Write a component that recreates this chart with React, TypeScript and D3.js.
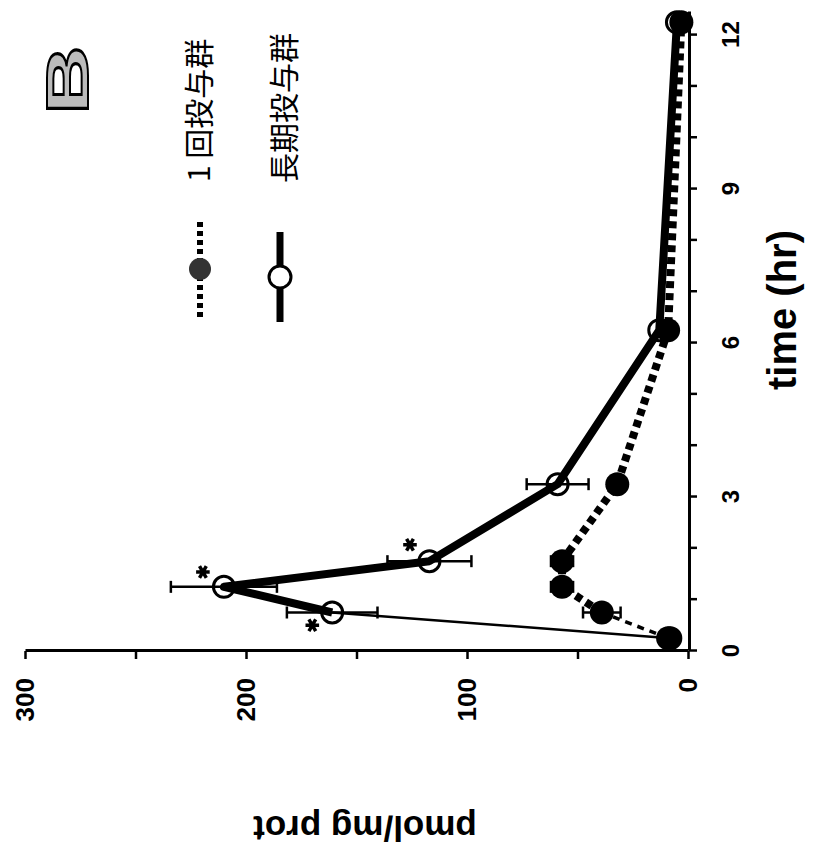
import React, { useEffect, useRef } from "react";
import * as d3 from "d3";

// ---- data ----
const times = [0.25, 0.75, 1.25, 1.75, 3.25, 6.25, 12.25];
const singleDose = [9, 39, 57, 57, 32, 9, 3];
const singleErr = [0, 8.5, 5, 5, 4, 0, 0];
const longTerm = [8, 161, 210, 117, 59, 13, 5];
const longErr = [0, 20.5, 24, 19, 14, 0, 0];
const starTimes = [0.5, 1.54, 2.07];
const starValues = [170, 219.5, 125.8];
const timeTicks = [0, 1, 2, 3, 4, 5, 6, 7, 8, 9, 10, 11, 12];
const timeLabels = [0, 3, 6, 9, 12];
const pmolTicks = [0, 50, 100, 150, 200, 250, 300];
const pmolLabels = [0, 100, 200, 300];
const legendSingle = "1 回投与群";
const legendLong = "長期投与群";

const W = 834;
const H = 854;
const FONT = "'Liberation Sans', Arial, sans-serif";
const JP = "'Noto Sans CJK JP', 'Noto Sans CJK SC', sans-serif";

export default function App() {
  const ref = useRef<SVGGElement | null>(null);

  useEffect(() => {
    const g = d3.select(ref.current);
    g.selectAll("*").remove();

    // original (unrotated) chart coordinates
    const x = d3.scaleLinear().domain([0, 12.45]).range([203, 842]);
    const y = d3.scaleLinear().domain([0, 300]).range([688, 25]);

    // time axis
    const xAxis = d3
      .axisBottom(x)
      .tickValues(timeTicks)
      .tickSizeInner(8)
      .tickSizeOuter(0)
      .tickPadding(25)
      .tickFormat((d: any) => (timeLabels.includes(d) ? String(d) : ""));
    const gx = g.append("g").attr("transform", "translate(0,689)").call(xAxis as any);
    gx.select(".domain").attr("stroke-width", 3);
    gx.selectAll(".tick line").attr("stroke-width", 2.5);
    gx.selectAll(".tick text")
      .attr("font-family", FONT)
      .attr("font-weight", "bold")
      .attr("font-size", 24)
      .attr("fill", "#000");

    // pmol axis
    const yAxis = d3
      .axisLeft(y)
      .tickValues(pmolTicks)
      .tickSizeInner(8)
      .tickSizeOuter(0)
      .tickPadding(19)
      .tickFormat((d: any) => (pmolLabels.includes(d) ? String(d) : ""));
    const gy = g.append("g").attr("transform", "translate(203,0)").call(yAxis as any);
    gy.select(".domain").attr("stroke-width", 3);
    gy.selectAll(".tick line").attr("stroke-width", 2.5);
    gy.selectAll(".tick text")
      .attr("font-family", FONT)
      .attr("font-weight", "bold")
      .attr("font-size", 26)
      .attr("fill", "#000");

    const pts = (vals: number[]) => times.map((t, i) => [x(t), y(vals[i])] as [number, number]);
    const line = d3.line();

    // long-term series (open circles, solid)
    const lp = pts(longTerm);
    g.append("path").attr("d", line(lp.slice(0, 2))).attr("fill", "none").attr("stroke", "#000").attr("stroke-width", 2.5);
    g.append("path").attr("d", line(lp.slice(1))).attr("fill", "none").attr("stroke", "#000").attr("stroke-width", 8).attr("stroke-linejoin", "round");

    // single-dose series (filled circles, dashed)
    const sp = pts(singleDose);
    g.append("path").attr("d", line(sp.slice(0, 2))).attr("fill", "none").attr("stroke", "#000").attr("stroke-width", 3.5).attr("stroke-dasharray", "7,6");
    g.append("path").attr("d", line(sp.slice(1))).attr("fill", "none").attr("stroke", "#000").attr("stroke-width", 8).attr("stroke-dasharray", "7,5");

    // error bars
    const errBars = (vals: number[], errs: number[]) => {
      times.forEach((t, i) => {
        if (!errs[i]) return;
        const cx = x(t);
        const y1 = y(vals[i] - errs[i]);
        const y2 = y(vals[i] + errs[i]);
        g.append("line").attr("x1", cx).attr("x2", cx).attr("y1", y1).attr("y2", y2).attr("stroke", "#000").attr("stroke-width", 2.5);
        [y1, y2].forEach((yy) =>
          g.append("line").attr("x1", cx - 6).attr("x2", cx + 6).attr("y1", yy).attr("y2", yy).attr("stroke", "#000").attr("stroke-width", 2.5)
        );
      });
    };
    errBars(longTerm, longErr);
    errBars(singleDose, singleErr);

    // markers
    g.selectAll(".open").data(lp).enter().append("circle")
      .attr("cx", (d) => d[0]).attr("cy", (d) => d[1]).attr("r", 10.5)
      .attr("fill", "none").attr("stroke", "#000").attr("stroke-width", 3);
    g.selectAll(".filled").data(sp).enter().append("circle")
      .attr("cx", (d) => d[0]).attr("cy", (d) => d[1]).attr("r", 12).attr("fill", "#000");

    // significance asterisks
    const star = d3.symbol().type(d3.symbolAsterisk).size(130);
    starTimes.forEach((t, i) => {
      g.append("path").attr("d", star()).attr("transform", `translate(${x(t)},${y(starValues[i])})`)
        .attr("fill", "none").attr("stroke", "#000").attr("stroke-width", 3.5);
    });

    // legend
    const lg = g.append("g");
    lg.append("line").attr("x1", 537).attr("x2", 634).attr("y1", 200).attr("y2", 200)
      .attr("stroke", "#000").attr("stroke-width", 6).attr("stroke-dasharray", "5,4");
    lg.append("circle").attr("cx", 585).attr("cy", 200).attr("r", 11).attr("fill", "#333");
    lg.append("line").attr("x1", 532).attr("x2", 622).attr("y1", 280).attr("y2", 280)
      .attr("stroke", "#000").attr("stroke-width", 7);
    lg.append("circle").attr("cx", 577).attr("cy", 280).attr("r", 11).attr("fill", "#fff").attr("stroke", "#000").attr("stroke-width", 3);
    lg.append("text").attr("x", 672).attr("y", 197).attr("dominant-baseline", "central")
      .attr("font-family", JP).attr("font-size", 30).attr("fill", "#000").text(legendSingle);
    lg.append("text").attr("x", 671).attr("y", 282).attr("dominant-baseline", "central")
      .attr("font-family", JP).attr("font-size", 30).attr("fill", "#000").text(legendLong);

    // panel letter
    g.append("text").attr("transform", "translate(774,88) scale(1.6,1)")
      .attr("text-anchor", "middle").attr("font-family", FONT).attr("font-weight", "bold")
      .attr("font-size", 60).attr("fill", "#bbb").attr("stroke", "#000").attr("stroke-width", 2).text("B");

    // axis titles
    g.append("text").attr("x", 544).attr("y", 782).attr("text-anchor", "middle").attr("dominant-baseline", "central")
      .attr("font-family", FONT).attr("font-weight", "bold").attr("font-size", 40).attr("fill", "#000").text("time (hr)");
    g.append("text").attr("transform", "translate(26,365) rotate(-90)").attr("text-anchor", "middle").attr("dominant-baseline", "central")
      .attr("font-family", FONT).attr("font-weight", "bold").attr("font-size", 35).attr("fill", "#000").text("pmol/mg prot");
  }, []);

  return (
    <svg width={W} height={H} style={{ position: "absolute", left: 0, top: 0, background: "#fff" }}>
      <rect width={W} height={H} fill="#fff" />
      <g ref={ref} transform={`translate(0,${H}) rotate(-90)`} />
    </svg>
  );
}
